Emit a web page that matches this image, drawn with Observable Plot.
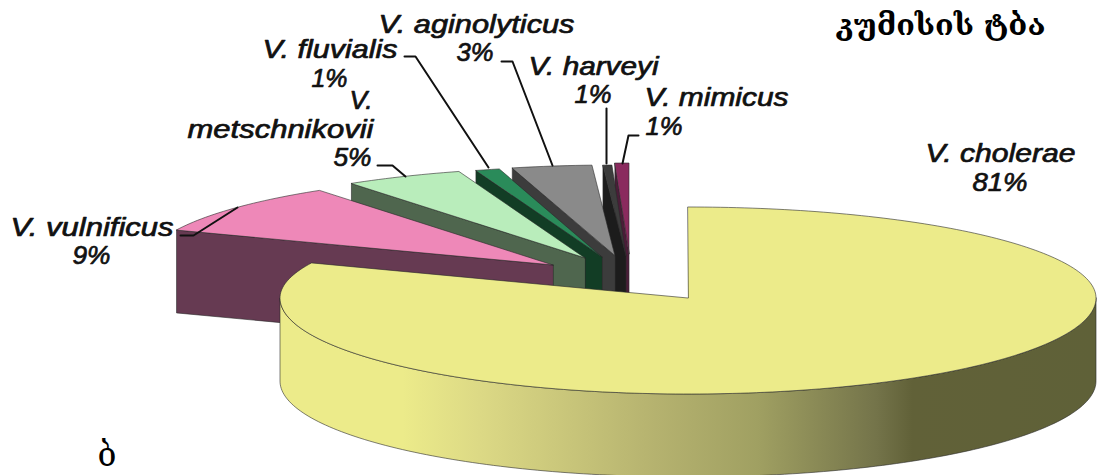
<!DOCTYPE html>
<html><head><meta charset="utf-8">
<style>html,body{margin:0;padding:0;background:#fff}svg{display:block}</style>
<script src="https://cdn.jsdelivr.net/npm/d3@7"></script>
<script src="https://cdn.jsdelivr.net/npm/@observablehq/plot@0.6"></script>
</head><body><div id="chart"></div>
<script>
const species = ["V. cholerae","V. vulnificus","V. metschnikovii","V. fluvialis","V. aginolyticus","V. harveyi","V. mimicus"];
const shares = [81.3,9,4.7,0.95,3.15,0.35,0.55];           // slice sizes
const topColors = ["#eceb8a","#ee88b8","#b9edbb","#2a8b5a","#8a8a8a","#3c3c3c","#8a2a5e"];
const wallColors = ["#eceb8a","#663a52","#4f664e","#123d25","#3c3c3c","#1c1c1c","#4a1d38"];

// layout of the pseudo-3D pie
const radiusX = 408, radiusBack = 91, radiusFront = 96, depth = 83;
const apexX = [688,553,585,602,615,626,629];
const apexY = [298,265,258,257,256,256,254];

// label lines: species/percent text, left edge, baseline, drawn width
const labelText = ["V. cholerae","81%","V. vulnificus","9%","V.","metschnikovii","5%","V. fluvialis","1%","V. aginolyticus","3%","V. harveyi","1%","V. mimicus","1%"];
const labelX = [925,972,10,72,349,187,333,262,311,378,456,528,574,644,645];
const labelY = [161,190,235,263,108,137,165,57,86,32,60,74,102,105,134];
const labelW = [150,55,163,38,23,186,38,135,36,196,37,130,37,144,37];

// leader lines per species
const leaderX = [[180,193,237],[377,392,405],[404,415,488],[501,512,552],[606,606],[638,628,622]];
const leaderY = [[235,235,207],[165,165,176],[56,56,167],[61,61,165],[108,163],[135,135,163]];

const title = "კუმისის ტბა";
const panel = "ბ";

const slices = d3.pie().sort(null).startAngle(0).endAngle(2*Math.PI)(shares);
const rimPt = (i,a)=>{const c=Math.cos(a);return [apexX[i]+radiusX*Math.sin(a), apexY[i]-(c<0?radiusFront:radiusBack)*c]};
const arcAngles = (a0,a1)=>{const n=Math.max(2,Math.ceil((a1-a0)/0.02));return d3.range(n+1).map(k=>a0+(a1-a0)*k/n)};

const marks = [];
marks.push(()=>{
  const ns="http://www.w3.org/2000/svg";
  const defs=document.createElementNS(ns,"defs");
  defs.innerHTML=`<linearGradient id="rim" x1="0" x2="1" y1="0" y2="0">
    <stop offset="0.15" stop-color="#eceb8a"/><stop offset="0.245" stop-color="#dcd985"/>
    <stop offset="0.46" stop-color="#b5b26f"/><stop offset="0.585" stop-color="#a0a062"/>
    <stop offset="0.73" stop-color="#74744a"/><stop offset="0.775" stop-color="#616138"/>
    <stop offset="1" stop-color="#5f6138"/></linearGradient>`;
  return defs;
});

// painted back to front
const line = {stroke:"#2a2a2a",strokeWidth:0.6,curve:"linear"};
for (const i of d3.range(species.length).reverse()) {
  const s = slices[i], name = species[i];
  if (i>0) {
    const p = rimPt(i,s.startAngle);
    const wall = [{x:apexX[i],y:apexY[i]},{x:p[0],y:p[1]}].map(d=>({key:name+" wall",x1:d.x,y1:d.y,x2:d.x,y2:d.y+depth}));
    marks.push(Plot.area(wall,{x1:"x1",y1:"y1",x2:"x2",y2:"y2",fill:"key",...line}));
  } else {
    const rim = arcAngles(Math.PI/2,3*Math.PI/2).map(a=>{const p=rimPt(0,a);return {x1:p[0],y1:p[1],x2:p[0],y2:p[1]+depth}});
    marks.push(Plot.area(rim,{x1:"x1",y1:"y1",x2:"x2",y2:"y2",fill:"url(#rim)",...line}));
  }
  const top = arcAngles(s.startAngle,s.endAngle).map(a=>{const p=rimPt(i,a);return {key:name,x1:p[0],y1:p[1],x2:apexX[i],y2:apexY[i]}});
  marks.push(Plot.area(top,{x1:"x1",y1:"y1",x2:"x2",y2:"y2",fill:"key",...line}));
}
leaderX.forEach((xs,k)=>{
  marks.push(Plot.line(xs.map((x,j)=>({x,y:leaderY[k][j]})),{x:"x",y:"y",stroke:"#111",strokeWidth:2,curve:"linear"}));
});
const labels = labelText.map((t,i)=>({t,x:labelX[i],y:labelY[i],w:labelW[i]}));
marks.push(Plot.text(labels,{x:"x",y:"y",text:"t",textAnchor:"start",lineAnchor:"bottom",
  fontFamily:"Liberation Sans",fontStyle:"italic",fontSize:25,fill:"#111",stroke:"#111",strokeWidth:0.7,
  render(index,scales,values,dims,ctx,next){
    const g=next(index,scales,values,dims,ctx);
    d3.select(g).selectAll("text").attr("textLength",(_,j)=>labels[index[j]].w).attr("lengthAdjust","spacingAndGlyphs");
    return g;
  }}));
const stretch = w => function(index,scales,values,dims,ctx,next){
  const g=next(index,scales,values,dims,ctx);
  d3.select(g).selectAll("text").attr("textLength",w).attr("lengthAdjust","spacingAndGlyphs");
  return g;
};
marks.push(Plot.text([title],{x:()=>835,y:()=>34,text:d=>d,textAnchor:"start",lineAnchor:"bottom",fontFamily:"DejaVu Serif, DejaVu Sans",fontWeight:"bold",fontSize:28,fill:"#000",render:stretch(210)}));
marks.push(Plot.text([panel],{x:()=>97,y:()=>465,text:d=>d,textAnchor:"start",lineAnchor:"bottom",fontFamily:"DejaVu Serif, DejaVu Sans",fontSize:33,fill:"#000",render:stretch(19)}));

const plot = Plot.plot({
  width:1099,height:475,margin:0,
  x:{domain:[0,1099],range:[0,1099],axis:null},
  y:{domain:[0,475],range:[0,475],axis:null},
  color:{type:"ordinal",domain:[...species,...species.map(n=>n+" wall")],range:[...topColors,...wallColors]},
  style:{background:"#fff"},
  marks
});
document.getElementById("chart").append(plot);
</script></body></html>
